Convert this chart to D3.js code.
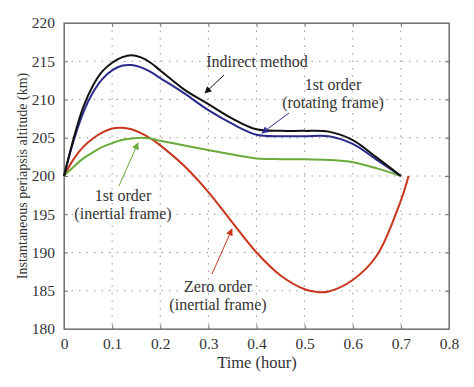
<!DOCTYPE html>
<html><head><meta charset="utf-8">
<script src="https://cdn.jsdelivr.net/npm/d3@7"></script>
<style>body{margin:0;background:#fff}svg text{font-family:"Liberation Serif","DejaVu Serif",serif;fill:#333}</style>
</head><body><svg id="c" width="474" height="387"></svg>
<script>
const xTicks = [0,0.1,0.2,0.3,0.4,0.5,0.6,0.7,0.8];
const yTicks = [180,185,190,195,200,205,210,215,220];
const tIndirect = [0,0.02,0.04,0.06,0.08,0.1,0.12,0.14,0.16,0.18,0.2,0.25,0.3,0.35,0.4,0.45,0.5,0.55,0.6,0.65,0.7];
const indirect  = [200,204.9,209.0,211.8,213.7,214.8,215.5,215.8,215.5,214.8,213.8,211.3,209.4,207.5,206.1,205.9,205.9,205.8,204.7,202.4,200];
const rotating  = [200,204.6,208.3,210.9,212.7,213.8,214.4,214.5,214.2,213.6,212.8,210.8,208.6,206.8,205.4,205.2,205.2,205.2,204.2,202.1,200];
const inertial1 = [200,201.2,202.3,203.1,203.8,204.3,204.7,204.9,205.0,204.9,204.6,204.0,203.4,202.8,202.3,202.2,202.2,202.1,201.8,201.0,200];
const tZero = [0,0.02,0.04,0.06,0.08,0.1,0.12,0.14,0.16,0.18,0.2,0.25,0.3,0.35,0.4,0.45,0.5,0.53,0.55,0.6,0.65,0.7,0.716];
const zero  = [200,202.2,203.8,204.9,205.7,206.2,206.3,206.1,205.6,204.9,204.0,201.3,197.9,193.9,190.0,187.0,185.2,184.8,184.9,186.4,189.6,196.8,200];

const svg = d3.select("#c");
const L=64,R=449,T=23,B=329;
const x = d3.scaleLinear().domain([0,0.8]).range([L,R]);
const y = d3.scaleLinear().domain([180,220]).range([B,T]);

// grid
const g = svg.append("g");
g.selectAll(".gx").data(xTicks.slice(1,-1)).enter().append("line")
 .attr("x1",d=>x(d)).attr("x2",d=>x(d)).attr("y1",T).attr("y2",B)
 .attr("stroke","#999").attr("stroke-width",1).attr("stroke-dasharray","1.5,6");
g.selectAll(".gy").data(yTicks.slice(1,-1)).enter().append("line")
 .attr("y1",d=>y(d)).attr("y2",d=>y(d)).attr("x1",L).attr("x2",R)
 .attr("stroke","#999").attr("stroke-width",1).attr("stroke-dasharray","1.5,6");

// axes
const fmtX = d=> d===0?"0":d3.format(".1f")(d);
svg.append("g").attr("transform",`translate(0,${B})`).call(d3.axisBottom(x).tickValues(xTicks).tickFormat(fmtX).tickSizeInner(-4).tickSizeOuter(0).tickPadding(9));
svg.append("g").attr("transform",`translate(${L},0)`).call(d3.axisLeft(y).tickValues(yTicks).tickSizeInner(-4).tickSizeOuter(0).tickPadding(9));
svg.append("g").attr("transform",`translate(0,${T})`).call(d3.axisTop(x).tickValues(xTicks).tickFormat("").tickSizeInner(-4).tickSizeOuter(0));
svg.append("g").attr("transform",`translate(${R},0)`).call(d3.axisRight(y).tickValues(yTicks).tickFormat("").tickSizeInner(-4).tickSizeOuter(0));
svg.selectAll(".domain").attr("stroke","#777");
svg.selectAll(".tick line").attr("stroke","#777");
svg.selectAll(".tick text").style("font-size","15.5px").attr("fill","#333").style("font-family","'Liberation Serif',serif");

// frame
svg.append("rect").attr("x",L).attr("y",T).attr("width",R-L).attr("height",B-T).attr("fill","none").attr("stroke","#777").attr("stroke-width",1.2);

// lines
const line = (ts)=>d3.line().x((d,i)=>x(ts[i])).y(d=>y(d)).curve(d3.curveCatmullRom.alpha(0.5));
const series = [
 {t:tZero,v:zero,c:"#c8361c"},
 {t:tIndirect,v:inertial1,c:"#6aab3b"},
 {t:tIndirect,v:rotating,c:"#2b2b8c"},
 {t:tIndirect,v:indirect,c:"#111"}
];
series.forEach(s=>{
 svg.append("path").attr("d",line(s.t)(s.v)).attr("fill","none").attr("stroke",s.c).attr("stroke-width",2);
});

// arrow markers
const defs = svg.append("defs");
function marker(id,col){
 defs.append("marker").attr("id",id).attr("viewBox","0 0 10 10").attr("refX",9).attr("refY",5)
  .attr("markerWidth",9).attr("markerHeight",7).attr("markerUnits","userSpaceOnUse").attr("orient","auto")
  .append("path").attr("d","M0,0L10,5L0,10z").attr("fill",col);
}
marker("mk","#111");marker("mb","#2b2b8c");marker("mg","#6aab3b");marker("mr","#c8361c");

function arrow(x1,y1,x2,y2,col,m){
 svg.append("line").attr("x1",x1).attr("y1",y1).attr("x2",x2).attr("y2",y2).attr("stroke",col).attr("stroke-width",1).attr("marker-end",`url(#${m})`);
}
function label(lines,cx,cy){
 lines.forEach((t,i)=>svg.append("text").attr("x",cx).attr("y",cy+i*18).attr("text-anchor","middle").style("font-size","16px").text(t));
}
label(["Indirect method"],257,67);
arrow(224,75,205,93,"#111","mk");
label(["1st order","(rotating frame)"],333,90);
arrow(289,113,262,133,"#2b2b8c","mb");
label(["1st order","(inertial frame)"],123,201);
arrow(119,186,138,143,"#6aab3b","mg");
label(["Zero order","(inertial frame)"],218,292);
arrow(212,274,232,229,"#c8361c","mr");

// axis titles
svg.append("text").attr("x",257).attr("y",368).attr("text-anchor","middle").style("font-size","16.5px").text("Time (hour)");
svg.append("text").attr("transform","translate(27,176) rotate(-90)").attr("text-anchor","middle").style("font-size","14px").text("Instantaneous periapsis altitude (km)");
</script></body></html>
